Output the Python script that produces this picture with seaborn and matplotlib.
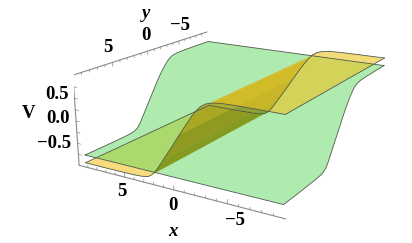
import numpy as np
import matplotlib
matplotlib.use("Agg")
import matplotlib.pyplot as plt
import seaborn as sns
from mpl_toolkits.mplot3d.art3d import Poly3DCollection

# profile nodes, shared by both sheets
nodes = [9.613, 7.5, 5.5, 4.2, 3.6, 3.2, 2.8, 2.4, 2.0, 1.6, 1.2, 0.8, 0.4, 0.0,
         -0.4, -0.8, -1.2, -1.6, -2.0, -2.4, -2.8, -3.2, -3.6, -4.2, -5.5, -7.5, -9.613]

# green sheet, V against y
v_green = [-0.777, -0.776, -0.773, -0.768, -0.762, -0.755, -0.735, -0.69, -0.60, -0.48, -0.36, -0.24, -0.12, 0.0,
           0.12, 0.24, 0.35, 0.45, 0.54, 0.62, 0.685, 0.725, 0.745, 0.76, 0.77, 0.776, 0.777]
# yellow sheet, V against x
v_yellow = [-0.955, -0.954, -0.95, -0.945, -0.935, -0.925, -0.90, -0.835, -0.725, -0.585, -0.44, -0.295, -0.15, 0.0,
            0.15, 0.295, 0.44, 0.58, 0.70, 0.80, 0.865, 0.90, 0.92, 0.94, 0.95, 0.954, 0.955]

x_ticks = [5, 0, -5]
y_ticks = [5, 0, -5]
z_ticks = [0.5, 0.0, -0.5]
x_labels = ["5", "0", "\u22125"]
y_labels = ["5", "0", "\u22125"]
z_labels = ["0.5", "0.0", "\u22120.5"]

sns.set_theme(style="white")
plt.rcParams['font.family'] = ['Liberation Serif', 'DejaVu Serif']

fig = plt.figure(figsize=(4.12, 2.43), dpi=100)
ax = fig.add_subplot(projection='3d', computed_zorder=False)
ax.set_xlim(-10, 10)
ax.set_ylim(-10, 10)
ax.set_zlim(-1, 1)
ax.set_box_aspect((1, 1, 0.4))
ax.view_init(17.762, 121.236)
ax.set_proj_type('persp', focal_length=0.434)
ax.set_axis_off()
ax.patch.set_alpha(0)
ax.set_position([73.5 / 412, -31.7 / 243, 322.9 / 412, 322.9 / 243])

n = np.array(nodes)
vg = np.array(v_green)
vy = np.array(v_yellow)
S = n[0]


def yellow_band(a, b, color, zorder):
    # one flat piece of the yellow sheet, from node a to node b
    top = [(n[k], S, vy[k]) for k in range(a, b + 1)]
    bottom = [(n[k], -S, vy[k]) for k in range(b, a - 1, -1)]
    ax.add_collection3d(Poly3DCollection([top + bottom], facecolors=[color], edgecolors='none', zorder=zorder))


# low plate sits under the green sheet, the rest above it
yellow_band(0, 6, (0.95, 0.77, 0.15, 0.6), 1)
green_edge = [(S, y, v) for y, v in zip(n, vg)] + [(-S, y, v) for y, v in zip(n[::-1], vg[::-1])]
ax.add_collection3d(Poly3DCollection([green_edge], facecolors=[(0.38, 0.85, 0.38, 0.5)], edgecolors='none', zorder=2))
yellow_band(6, 10, (0.46, 0.50, 0.0, 0.7), 3)
yellow_band(10, 14, (0.52, 0.50, 0.0, 0.7), 3)
yellow_band(14, 18, (0.66, 0.58, 0.02, 0.7), 3)
yellow_band(18, 21, (0.76, 0.58, 0.08, 0.7), 3)
yellow_band(21, 26, (0.93, 0.77, 0.13, 0.6), 3)

# sheet outlines
line_kw = dict(color='#4f5a4a', lw=0.6, zorder=5)
ax.plot(np.full(n.size, S), n, vg, **line_kw)
ax.plot(np.full(n.size, -S), n, vg, **line_kw)
ax.plot([S, -S], [S, S], [vg[0], vg[0]], **line_kw)
ax.plot([S, -S], [-S, -S], [vg[-1], vg[-1]], **line_kw)
ax.plot(n, np.full(n.size, S), vy, **line_kw)
ax.plot(n, np.full(n.size, -S), vy, **line_kw)
ax.plot([S, S], [S, -S], [vy[0], vy[0]], **line_kw)
ax.plot([-S, -S], [S, -S], [vy[-1], vy[-1]], **line_kw)

# box edges with ticks
axis_kw = dict(color='#8a8a8a', lw=0.8, zorder=0)
ax.plot([10, -10], [10, 10], [-1, -1], **axis_kw)
ax.plot([10, 10], [10, -10], [1, 1], **axis_kw)
ax.plot([10, 10], [10, 10], [1, -1], **axis_kw)
tick_kw = dict(color='#8a8a8a', lw=0.5, zorder=0)
for t in range(-9, 10):
    h = 0.09 if t % 5 == 0 else 0.05
    ax.plot([t, t], [10, 10], [-1, -1 + h], **tick_kw)
    ax.plot([10, 10], [t, t], [1, 1 - h], **tick_kw)
for t in np.arange(-0.75, 0.76, 0.25):
    ax.plot([10, 10 - 0.35], [10, 10], [t, t], **tick_kw)

# labels, placed by figure position
txt = dict(transform=fig.transFigure, ha='center', va='center', fontweight='bold', fontsize=13.5, color='black')
for lab, px, py in zip(x_labels, [122, 173, 235], [192, 205, 220]):
    ax.text2D(px / 412, 1 - py / 243, lab, **txt)
for lab, px, py in zip(y_labels, [108, 146, 180], [48, 36, 26]):
    ax.text2D(px / 412, 1 - py / 243, lab, **txt)
for lab, px, py in zip(z_labels, [57, 58, 54], [94, 118, 143]):
    ax.text2D(px / 412, 1 - py / 243, lab, **txt)
ax.text2D(173 / 412, 1 - 231 / 243, "x", style='italic', **txt)
ax.text2D(146 / 412, 1 - 14 / 243, "y", style='italic', **txt)
ax.text2D(29 / 412, 1 - 114 / 243, "V", **txt)

fig.savefig("out.png", dpi=100)
